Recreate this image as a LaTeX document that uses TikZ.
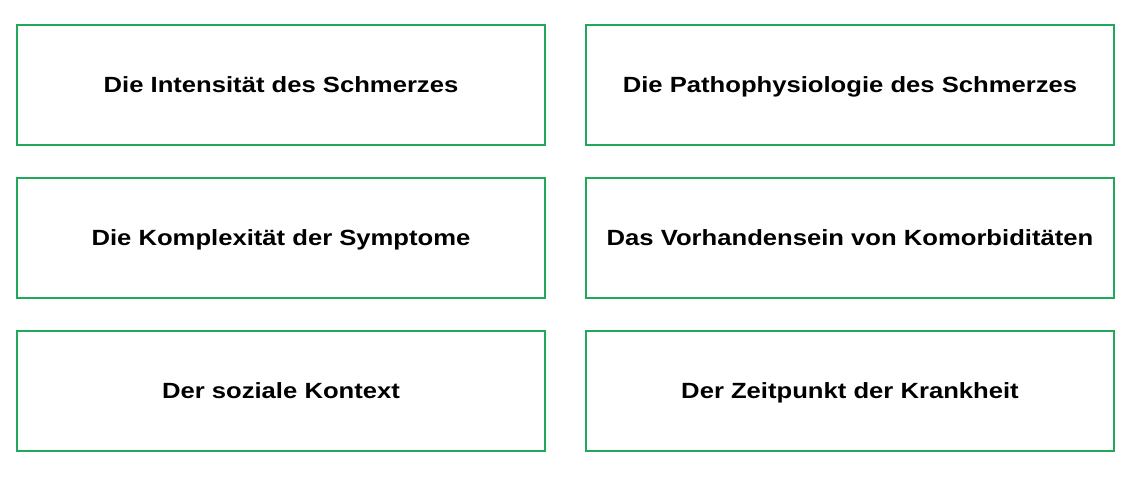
\documentclass[tikz,border=0pt]{standalone}
\usepackage{fontspec}
\setmainfont{Liberation Sans}
\newfontfamily\cardfont[FakeStretch=1.165]{Liberation Sans Bold}
\definecolor{boxgreen}{RGB}{34,168,90}
\begin{document}
\begin{tikzpicture}[x=1pt,y=-1pt,
  card/.style={draw=boxgreen,line width=2pt,minimum width=528pt,minimum height=120pt,inner sep=0pt,
    text height=16pt,text depth=1pt,
    font=\fontsize{22}{26}\cardfont,text=black}]
\useasboundingbox (0,0) rectangle (1143,477);
\node[card] (a) at (281,85) {Die Intensität des Schmerzes};
\node[card] (b) at (850,85) {Die Pathophysiologie des Schmerzes};
\node[card] (c) at (281,238) {Die Komplexität der Symptome};
\node[card] (d) at (850,238) {Das Vorhandensein von Komorbiditäten};
\node[card] (e) at (281,390.5) {Der soziale Kontext};
\node[card] (f) at (850,390.5) {Der Zeitpunkt der Krankheit};
\end{tikzpicture}
\end{document}
